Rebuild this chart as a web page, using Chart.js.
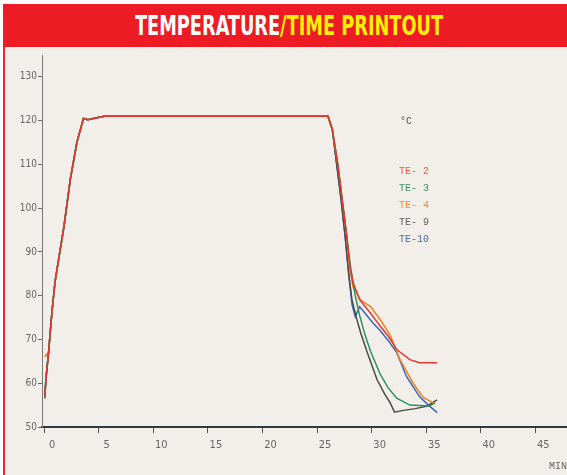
<!DOCTYPE html>
<html>
<head>
<meta charset="utf-8">
<script src="https://cdn.jsdelivr.net/npm/chart.js@4/dist/chart.umd.min.js"></script>
<style>
  html, body { margin:0; padding:0; width:567px; height:475px; overflow:hidden; background:#ffffff; }
  #paper { position:absolute; left:5px; top:47px; width:562px; height:428px; background:#F2EFEA; }
  #lborder { position:absolute; left:3px; top:4px; width:2px; height:471px; background:#EE2A2E; }
  #banner { position:absolute; left:3px; top:4px; width:564px; height:43px; background:#ED1C24; }
  #title { position:absolute; top:4px; left:0; height:43px; line-height:43px; white-space:nowrap;
           font-family:'Liberation Sans Narrow','DejaVu Sans Condensed','Liberation Sans',sans-serif;
           font-weight:bold; font-size:27px; transform-origin:0 50%; }
  #title .w { color:#FFFFFF; }
  #title .y { color:#FFF200; }
  #wrap { position:absolute; left:0; top:0; width:567px; height:475px; }
</style>
</head>
<body>
<div id="paper"></div>
<div id="lborder"></div>
<div id="banner"></div>
<div id="title"><span class="w">TEMPERATURE</span><span class="y">/TIME PRINTOUT</span></div>
<div id="wrap"><canvas id="c" width="567" height="475"></canvas></div>
<script>
// ---------------- data ----------------
const seriesLabels = ['TE- 2', 'TE- 3', 'TE- 4', 'TE- 9', 'TE-10'];
const xTickValues = [0, 5, 10, 15, 20, 25, 30, 35, 40, 45];
const yTickValues = [50, 60, 70, 80, 90, 100, 110, 120, 130];

// start of each trace
const startTimes = [0.05, 0.18];
const te2StartTemps  = [57.0, 61.5];
const te3StartTemps  = [57.5, 61.8];
const te4StartTemps  = [66.0, 66.5];
const te9StartTemps  = [56.5, 61.2];
const te10StartTemps = [57.0, 61.5];

// shared heat-up and hold
const riseTimes = [0.4, 0.7, 1.0, 1.4, 1.8, 2.4, 3.0, 3.6, 4.0, 4.5, 5.5, 10, 15, 20, 25.5, 26.0];
const riseTemps = [67, 76, 83.3, 89.5, 95.6, 106.7, 115.1, 120.5, 120.2, 120.5, 121, 121, 121, 121, 121, 121];

// cool-down per probe
const te2CoolTimes = [26.4, 26.9, 27.3, 27.7, 28.0, 28.3, 28.9, 29.9, 30.8, 31.6, 32.3, 33.5, 34.4, 36.0];
const te2CoolTemps = [118, 110, 102, 94, 87, 83, 79.1, 76, 73, 70.5, 67.7, 65.4, 64.7, 64.7];

const te3CoolTimes = [26.4, 26.9, 27.3, 27.7, 28.1, 28.5, 28.9, 29.4, 29.9, 30.8, 31.5, 32.3, 33.5, 35.3, 35.8];
const te3CoolTemps = [118, 110, 102, 94, 86, 80, 75.5, 71, 67.3, 62, 59, 56.6, 55, 54.8, 55.5];

const te4CoolTimes = [26.4, 26.9, 27.3, 27.7, 28.0, 28.3, 29.0, 29.9, 30.8, 31.7, 32.6, 33.8, 34.7, 35.8];
const te4CoolTemps = [118, 110, 102, 94, 86, 82, 79, 77.5, 74.5, 71, 65.4, 60, 56.8, 55.3];

const te9CoolTimes = [26.4, 26.8, 27.2, 27.6, 27.9, 28.2, 28.6, 29.0, 29.6, 30.5, 31.2, 31.7, 32.1, 32.9, 34.0, 35.1, 36.0];
const te9CoolTemps = [118, 110, 102, 93, 85, 79, 75, 71.5, 67, 60.8, 57.5, 55.5, 53.4, 53.8, 54.2, 54.8, 56.2];

const te10CoolTimes = [26.4, 26.8, 27.2, 27.6, 27.9, 28.2, 28.5, 28.9, 29.4, 30.1, 30.8, 31.6, 32.3, 33.2, 34.4, 35.2, 36.0];
const te10CoolTemps = [118, 110, 102, 93, 85, 78, 75.2, 77.5, 76, 73.8, 72, 69.5, 67, 61.5, 56.9, 55, 53.3];

// ---------------- styles ----------------
const lineColors   = ['#E2362E', '#2F9160', '#F2801E', '#4A4A4A', '#3B68B8'];
const legendColors = ['#EA5A3A', '#3E8C62', '#F58A2A', '#606060', '#4C6A9A'];

function buildPoints(startTemps, coolTimes, coolTemps) {
  const pts = [];
  startTimes.forEach((t, i) => pts.push({x: t, y: startTemps[i]}));
  riseTimes.forEach((t, i) => pts.push({x: t, y: riseTemps[i]}));
  coolTimes.forEach((t, i) => pts.push({x: t, y: coolTemps[i]}));
  return pts;
}

const seriesPoints = [
  buildPoints(te2StartTemps, te2CoolTimes, te2CoolTemps),
  buildPoints(te3StartTemps, te3CoolTimes, te3CoolTemps),
  buildPoints(te4StartTemps, te4CoolTimes, te4CoolTemps),
  buildPoints(te9StartTemps, te9CoolTimes, te9CoolTemps),
  buildPoints(te10StartTemps, te10CoolTimes, te10CoolTemps)
];

const datasets = seriesLabels.map((lab, i) => ({
  label: lab,
  data: seriesPoints[i],
  borderColor: lineColors[i],
  backgroundColor: lineColors[i],
  borderWidth: 1.5,
  pointRadius: 0,
  tension: 0,
  fill: false
}));

const monoFont = "'Liberation Mono','DejaVu Sans Mono',monospace";
const tickFont = "'Liberation Sans Narrow','DejaVu Sans Condensed',sans-serif";

const innerLegend = {
  id: 'innerLegend',
  afterDatasetsDraw(chart) {
    const ctx = chart.ctx;
    const xs = chart.scales.x, ys = chart.scales.y;
    const x0 = xs.getPixelForValue(32.5);
    ctx.save();
    ctx.font = '10px ' + monoFont;
    ctx.textBaseline = 'middle';
    ctx.textAlign = 'left';
    ctx.fillStyle = '#555';
    ctx.fillText('°C', x0 + 1, ys.getPixelForValue(119.8));
    chart.data.datasets.forEach((ds, i) => {
      ctx.fillStyle = legendColors[i];
      ctx.fillText(ds.label, x0, ys.getPixelForValue(108.3) + i * 17);
    });
    ctx.restore();
  }
};

new Chart(document.getElementById('c'), {
  type: 'line',
  data: { datasets },
  plugins: [innerLegend],
  options: {
    responsive: false,
    animation: false,
    events: [],
    layout: { padding: { top: 55, left: 0, right: 0, bottom: 0 } },
    plugins: { legend: { display: false }, tooltip: { enabled: false }, title: { display: false } },
    scales: {
      x: {
        type: 'linear',
        min: -0.2,
        max: 47.9,
        afterBuildTicks(scale) { scale.ticks = xTickValues.map(v => ({ value: v })); },
        afterFit(scale) { scale.height = 48; },
        grid: { drawOnChartArea: false, drawTicks: true, tickLength: 6, color: '#555', lineWidth: 1 },
        border: { display: true, color: '#2E3A40', width: 2 },
        ticks: { color: '#666', font: { family: tickFont, size: 11 }, padding: 6, labelOffset: 8, maxRotation: 0, autoSkip: false },
        title: { display: true, text: 'MIN', align: 'end', color: '#666', font: { family: monoFont, size: 10 }, padding: { top: 0, bottom: 3 } }
      },
      y: {
        type: 'linear',
        min: 50,
        max: 135,
        afterBuildTicks(scale) { scale.ticks = yTickValues.map(v => ({ value: v })); },
        afterFit(scale) { scale.width = 42; },
        grid: { drawOnChartArea: false, drawTicks: true, tickLength: 4, color: '#666', lineWidth: 1 },
        border: { display: true, color: '#777', width: 1, dash: [2, 2] },
        ticks: { color: '#666', font: { family: tickFont, size: 10 }, padding: 1, autoSkip: false }
      }
    }
  }
});

// fit the banner title to its printed width
(function () {
  const t = document.getElementById('title');
  const w = t.getBoundingClientRect().width;
  const target = 308;
  const s = target / w;
  t.style.transform = 'scaleX(' + s + ')';
  t.style.left = (289 - target / 2) + 'px';
})();
</script>
</body>
</html>
